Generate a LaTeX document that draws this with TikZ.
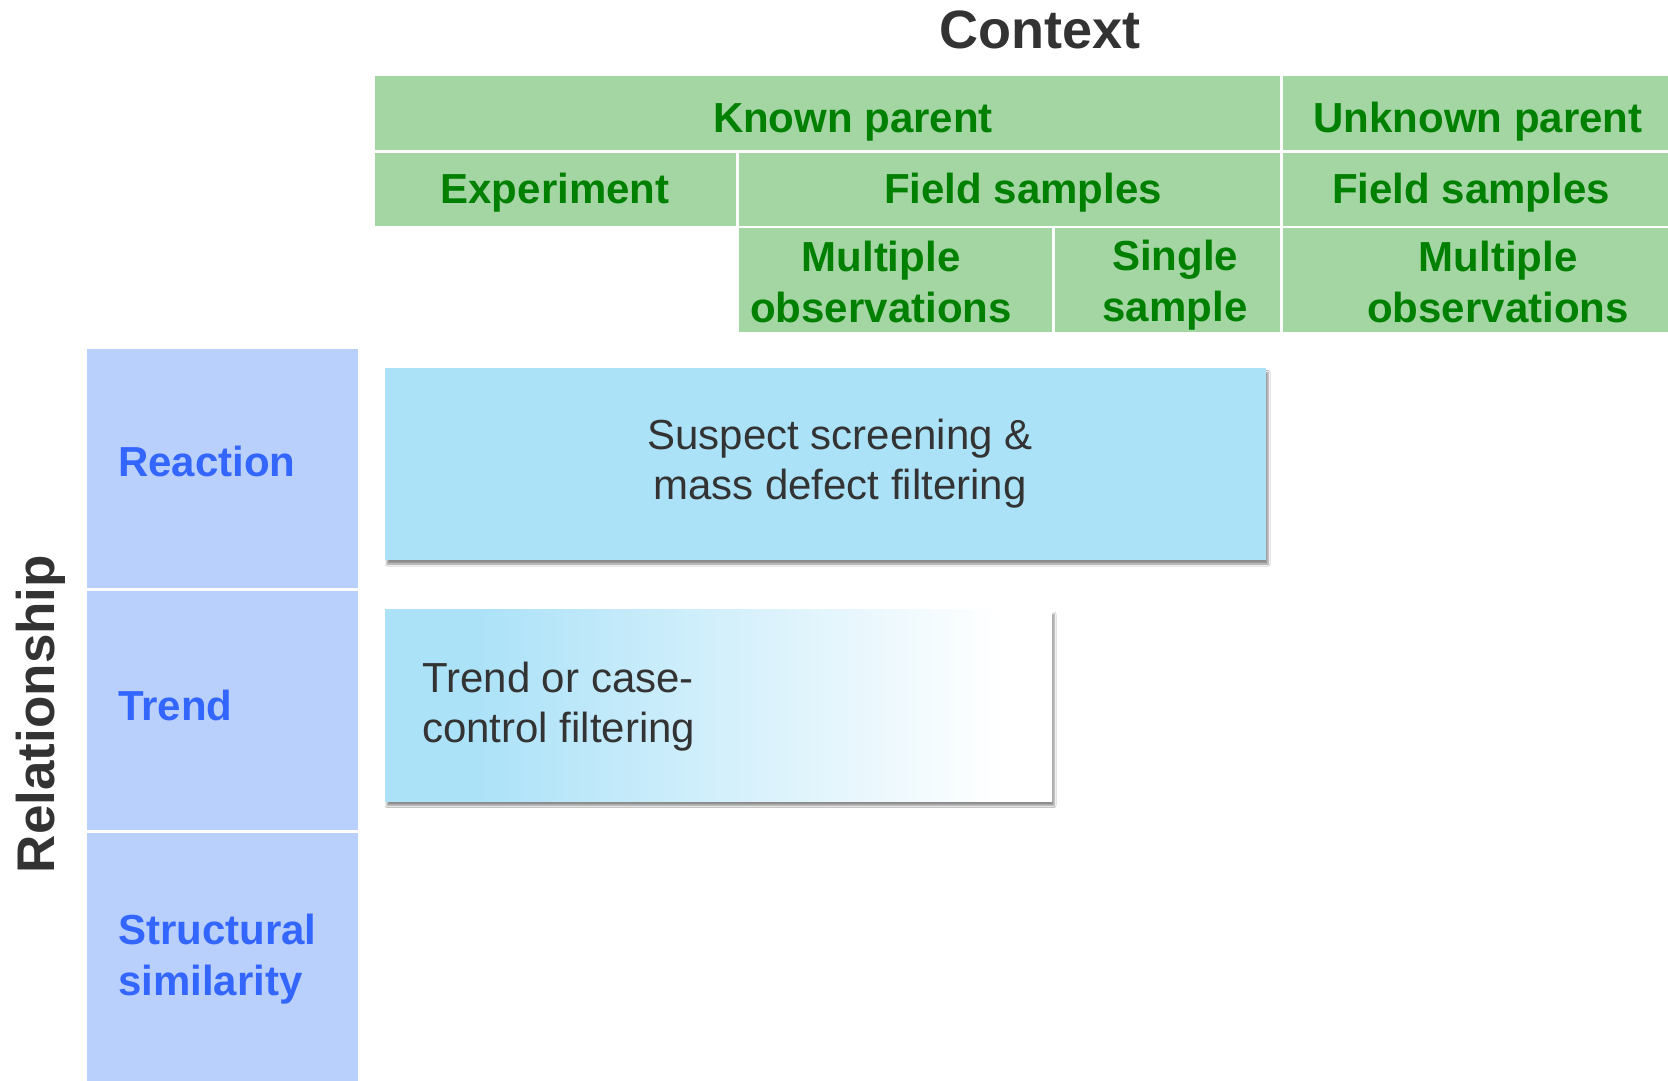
\documentclass[tikz,border=0pt]{standalone}
\usepackage{fontspec}
\setmainfont{Liberation Sans}
\usetikzlibrary{shadows.blur}
\definecolor{hdrgreen}{RGB}{163,214,163}
\definecolor{txtgreen}{RGB}{0,128,0}
\definecolor{relblue}{RGB}{185,207,252}
\definecolor{txtblue}{RGB}{51,102,255}
\definecolor{boxblue}{RGB}{172,226,248}
\definecolor{darktxt}{RGB}{51,51,51}
\pgfdeclarehorizontalshading{trendshade}{100bp}{color(0bp)=(boxblue); color(25bp)=(boxblue); color(32bp)=(boxblue); color(71bp)=(white); color(100bp)=(white)}
\begin{document}
\begin{tikzpicture}[x=1pt,y=1pt,
  hdr/.style={fill=hdrgreen},
  rel/.style={fill=relblue},
  hdrtext/.style={inner sep=0pt, align=center, text=txtgreen, font=\fontsize{42}{51}\selectfont\bfseries},
  reltext/.style={inner sep=0pt, anchor=west, align=left, text=txtblue, font=\fontsize{42}{51}\selectfont\bfseries},
  boxtext/.style={inner sep=0pt, text=darktxt, font=\fontsize{42}{50}\selectfont},
  shadowed/.style={blur shadow={shadow xshift=2pt, shadow yshift=-4.5pt, shadow blur steps=6, shadow blur radius=2pt, shadow opacity=45}}
]
\useasboundingbox[fill=white] (0,0) rectangle (1668,-1081);

% header cells
\fill[hdr] (374.5,-76.5) rectangle (1279.5,-150);
\fill[hdr] (1282.5,-76.5) rectangle (1668,-150);
\fill[hdr] (374.5,-153) rectangle (736,-225.5);
\fill[hdr] (738.5,-153) rectangle (1279.5,-225.5);
\fill[hdr] (1282.5,-153) rectangle (1668,-225.5);
\fill[hdr] (738.5,-228) rectangle (1052,-332);
\fill[hdr] (1054.5,-228) rectangle (1279.5,-332);
\fill[hdr] (1282.5,-228) rectangle (1668,-332);

% relationship cells
\fill[rel] (87,-349) rectangle (357.5,-588);
\fill[rel] (87,-590.5) rectangle (357.5,-830);
\fill[rel] (87,-832.5) rectangle (357.5,-1081);

% titles
\node[inner sep=0pt, text=darktxt, font=\fontsize{54}{60}\selectfont\bfseries] (context) at (1040,-30) {Context};
\node[inner sep=0pt, text=darktxt, rotate=90, font=\fontsize{53}{60}\selectfont\bfseries] (relationship) at (41,-714) {Relationship};

% header texts
\node[hdrtext] (known) at (853,-122) {Known parent};
\node[hdrtext] (unknown) at (1478,-122) {Unknown parent};
\node[hdrtext] (experiment) at (555,-193) {Experiment};
\node[hdrtext] (field1) at (1023,-193) {Field samples};
\node[hdrtext] (field2) at (1471,-193) {Field samples};
\node[hdrtext] (multi1) at (881,-282) {Multiple\\observations};
\node[hdrtext] (single) at (1175,-285) {Single\\sample};
\node[hdrtext] (multi2) at (1498,-282) {Multiple\\observations};

% relationship texts
\node[reltext] (reaction) at (118,-461) {Reaction};
\node[reltext] (trend) at (118,-705) {Trend};
\node[reltext] (structural) at (118,-959) {Structural\\similarity};

% method boxes
\fill[boxblue, shadowed] (385,-368) rectangle (1266,-559.5);
\shade[shading=trendshade, shadowed] (385,-609.5) rectangle (1052,-801);
\node[boxtext, align=center] (suspect) at (840,-463.5) {Suspect screening \&\\mass defect filtering};
\node[boxtext, align=left, anchor=west] (trendbox) at (422,-706.5) {Trend or case-\\control filtering};
\end{tikzpicture}
\end{document}
